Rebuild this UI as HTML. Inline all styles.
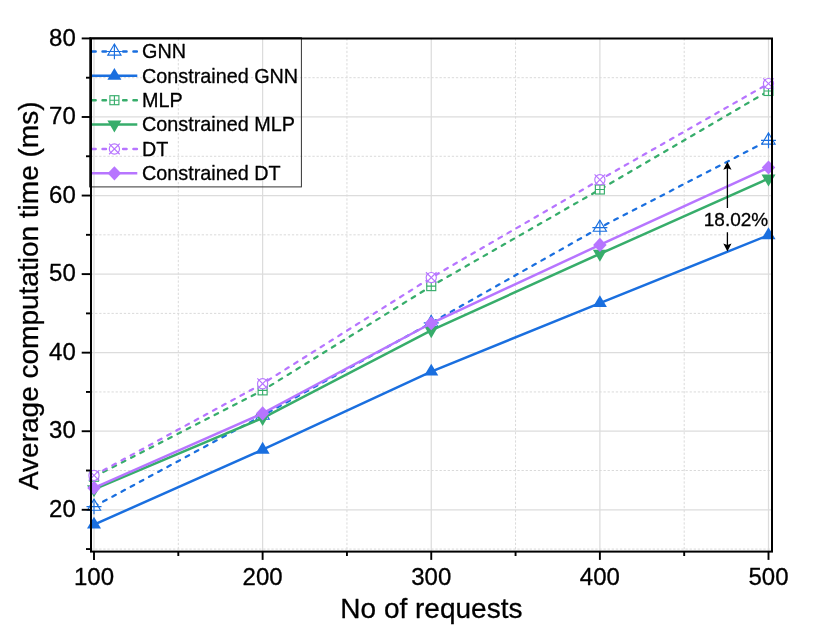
<!DOCTYPE html>
<html><head><meta charset="utf-8"><title>chart</title>
<style>html,body{margin:0;padding:0;background:#fff}svg{display:block;will-change:transform}text{font-family:"Liberation Sans",sans-serif;fill:#000;stroke:#000;stroke-width:0.3px;stroke-linejoin:round}</style></head><body>
<svg width="830" height="636" viewBox="0 0 830 636">
<rect width="830" height="636" fill="#fff"/>
<g stroke="#dcdcdc" stroke-width="1.25" fill="none">
<path d="M94.00 38.5V551.6"/>
<path d="M262.62 38.5V551.6"/>
<path d="M431.25 38.5V551.6"/>
<path d="M599.88 38.5V551.6"/>
<path d="M768.50 38.5V551.6"/>
<path d="M91.0 509.79H772.0"/>
<path d="M91.0 431.23H772.0"/>
<path d="M91.0 352.67H772.0"/>
<path d="M91.0 274.11H772.0"/>
<path d="M91.0 195.55H772.0"/>
<path d="M91.0 116.99H772.0"/>
</g>
<g stroke="#dadada" stroke-width="1" stroke-dasharray="2.3 1.8" fill="none">
<path d="M178.31 38.5V551.6"/>
<path d="M346.94 38.5V551.6"/>
<path d="M515.56 38.5V551.6"/>
<path d="M684.19 38.5V551.6"/>
<path d="M91.0 549.07H772.0"/>
<path d="M91.0 470.51H772.0"/>
<path d="M91.0 391.95H772.0"/>
<path d="M91.0 313.39H772.0"/>
<path d="M91.0 234.83H772.0"/>
<path d="M91.0 156.27H772.0"/>
<path d="M91.0 77.71H772.0"/>
</g>
<polyline points="94.00,506.56 262.62,415.50 431.25,322.87 599.88,227.57 768.50,140.36" fill="none" stroke="#1A6FDF" stroke-width="2.25" stroke-dasharray="3.9 6.52" stroke-linecap="round"/>
<path d="M94.00 499.16L100.60 510.26L87.40 510.26Z" fill="#fff" stroke="#1A6FDF" stroke-width="1.15"/><path d="M86.50 506.56H101.50M94.00 499.06V514.36" fill="none" stroke="#1A6FDF" stroke-width="1.15"/>
<path d="M262.62 408.10L269.23 419.20L256.02 419.20Z" fill="#fff" stroke="#1A6FDF" stroke-width="1.15"/><path d="M255.12 415.50H270.12M262.62 408.00V423.30" fill="none" stroke="#1A6FDF" stroke-width="1.15"/>
<path d="M431.25 315.47L437.85 326.57L424.65 326.57Z" fill="#fff" stroke="#1A6FDF" stroke-width="1.15"/><path d="M423.75 322.87H438.75M431.25 315.37V330.67" fill="none" stroke="#1A6FDF" stroke-width="1.15"/>
<path d="M599.88 220.17L606.48 231.27L593.27 231.27Z" fill="#fff" stroke="#1A6FDF" stroke-width="1.15"/><path d="M592.38 227.57H607.38M599.88 220.07V235.37" fill="none" stroke="#1A6FDF" stroke-width="1.15"/>
<path d="M768.50 132.96L775.10 144.06L761.90 144.06Z" fill="#fff" stroke="#1A6FDF" stroke-width="1.15"/><path d="M761.00 140.36H776.00M768.50 132.86V148.16" fill="none" stroke="#1A6FDF" stroke-width="1.15"/>
<polyline points="94.00,524.62 262.62,449.73 431.25,371.54 599.88,303.09 768.50,235.19" fill="none" stroke="#1A6FDF" stroke-width="2.5"/>
<path d="M94.00 516.72L101.00 528.62L87.00 528.62Z" fill="#1A6FDF"/>
<path d="M262.62 441.83L269.62 453.73L255.62 453.73Z" fill="#1A6FDF"/>
<path d="M431.25 363.64L438.25 375.54L424.25 375.54Z" fill="#1A6FDF"/>
<path d="M599.88 295.19L606.88 307.09L592.88 307.09Z" fill="#1A6FDF"/>
<path d="M768.50 227.29L775.50 239.19L761.50 239.19Z" fill="#1A6FDF"/>
<polyline points="94.00,476.73 262.62,390.38 431.25,286.13 599.88,189.50 768.50,90.98" fill="none" stroke="#37AD6B" stroke-width="2.25" stroke-dasharray="3.9 6.52" stroke-linecap="round"/>
<rect x="89.50" y="472.23" width="9" height="9" fill="#fff" stroke="#37AD6B" stroke-width="1.15"/><path d="M89.50 476.73H98.50M94.00 472.23V481.23" fill="none" stroke="#37AD6B" stroke-width="1.15"/>
<rect x="258.12" y="385.88" width="9" height="9" fill="#fff" stroke="#37AD6B" stroke-width="1.15"/><path d="M258.12 390.38H267.12M262.62 385.88V394.88" fill="none" stroke="#37AD6B" stroke-width="1.15"/>
<rect x="426.75" y="281.63" width="9" height="9" fill="#fff" stroke="#37AD6B" stroke-width="1.15"/><path d="M426.75 286.13H435.75M431.25 281.63V290.63" fill="none" stroke="#37AD6B" stroke-width="1.15"/>
<rect x="595.38" y="185.00" width="9" height="9" fill="#fff" stroke="#37AD6B" stroke-width="1.15"/><path d="M595.38 189.50H604.38M599.88 185.00V194.00" fill="none" stroke="#37AD6B" stroke-width="1.15"/>
<rect x="764.00" y="86.48" width="9" height="9" fill="#fff" stroke="#37AD6B" stroke-width="1.15"/><path d="M764.00 90.98H773.00M768.50 86.48V95.48" fill="none" stroke="#37AD6B" stroke-width="1.15"/>
<polyline points="94.00,489.29 262.62,418.09 431.25,330.33 599.88,253.79 768.50,178.59" fill="none" stroke="#37AD6B" stroke-width="2.5"/>
<path d="M94.00 497.19L101.00 485.29L87.00 485.29Z" fill="#37AD6B"/>
<path d="M262.62 425.99L269.62 414.09L255.62 414.09Z" fill="#37AD6B"/>
<path d="M431.25 338.23L438.25 326.33L424.25 326.33Z" fill="#37AD6B"/>
<path d="M599.88 261.69L606.88 249.79L592.88 249.79Z" fill="#37AD6B"/>
<path d="M768.50 186.49L775.50 174.59L761.50 174.59Z" fill="#37AD6B"/>
<polyline points="94.00,475.40 262.62,383.71 431.25,277.58 599.88,179.76 768.50,83.60" fill="none" stroke="#B775FF" stroke-width="2.25" stroke-dasharray="3.9 6.52" stroke-linecap="round"/>
<circle cx="94.00" cy="475.40" r="5.1" fill="#fff" stroke="#B775FF" stroke-width="1.15"/><path d="M88.70 470.10L99.30 480.70M99.30 470.10L88.70 480.70" fill="none" stroke="#B775FF" stroke-width="1.15"/>
<circle cx="262.62" cy="383.71" r="5.1" fill="#fff" stroke="#B775FF" stroke-width="1.15"/><path d="M257.32 378.41L267.93 389.01M267.93 378.41L257.32 389.01" fill="none" stroke="#B775FF" stroke-width="1.15"/>
<circle cx="431.25" cy="277.58" r="5.1" fill="#fff" stroke="#B775FF" stroke-width="1.15"/><path d="M425.95 272.28L436.55 282.88M436.55 272.28L425.95 282.88" fill="none" stroke="#B775FF" stroke-width="1.15"/>
<circle cx="599.88" cy="179.76" r="5.1" fill="#fff" stroke="#B775FF" stroke-width="1.15"/><path d="M594.58 174.46L605.17 185.06M605.17 174.46L594.58 185.06" fill="none" stroke="#B775FF" stroke-width="1.15"/>
<circle cx="768.50" cy="83.60" r="5.1" fill="#fff" stroke="#B775FF" stroke-width="1.15"/><path d="M763.20 78.30L773.80 88.90M773.80 78.30L763.20 88.90" fill="none" stroke="#B775FF" stroke-width="1.15"/>
<polyline points="94.00,487.96 262.62,413.38 431.25,323.26 599.88,244.92 768.50,167.52" fill="none" stroke="#B775FF" stroke-width="2.5"/>
<path d="M94.00 480.86L100.75 487.96L94.00 495.06L87.25 487.96Z" fill="#B775FF"/>
<path d="M262.62 406.28L269.38 413.38L262.62 420.48L255.88 413.38Z" fill="#B775FF"/>
<path d="M431.25 316.16L438.00 323.26L431.25 330.36L424.50 323.26Z" fill="#B775FF"/>
<path d="M599.88 237.82L606.62 244.92L599.88 252.02L593.12 244.92Z" fill="#B775FF"/>
<path d="M768.50 160.42L775.25 167.52L768.50 174.62L761.75 167.52Z" fill="#B775FF"/>
<rect x="89.6" y="37.7" width="211.8" height="149.2" fill="none" stroke="#333" stroke-width="1"/>
<path d="M92.25 51.45H137.3" stroke="#1A6FDF" stroke-width="2.5" fill="none" stroke-dasharray="3.4 6.9" stroke-linecap="round"/>
<path d="M114.40 44.05L121.00 55.15L107.80 55.15Z" fill="#fff" stroke="#1A6FDF" stroke-width="1.15"/><path d="M106.90 51.45H121.90M114.40 43.95V59.25" fill="none" stroke="#1A6FDF" stroke-width="1.15"/>
<text x="142.0" y="58.35" font-size="19.8">GNN</text>
<path d="M91.0 75.83H137.3" stroke="#1A6FDF" stroke-width="2.5" fill="none"/>
<path d="M114.40 67.93L121.40 79.83L107.40 79.83Z" fill="#1A6FDF"/>
<text x="142.0" y="82.73" font-size="19.8">Constrained GNN</text>
<path d="M92.25 100.21H137.3" stroke="#37AD6B" stroke-width="2.5" fill="none" stroke-dasharray="3.4 6.9" stroke-linecap="round"/>
<rect x="109.90" y="95.71" width="9" height="9" fill="#fff" stroke="#37AD6B" stroke-width="1.15"/><path d="M109.90 100.21H118.90M114.40 95.71V104.71" fill="none" stroke="#37AD6B" stroke-width="1.15"/>
<text x="142.0" y="107.11" font-size="19.8">MLP</text>
<path d="M91.0 124.59H137.3" stroke="#37AD6B" stroke-width="2.5" fill="none"/>
<path d="M114.40 132.49L121.40 120.59L107.40 120.59Z" fill="#37AD6B"/>
<text x="142.0" y="131.49" font-size="19.8">Constrained MLP</text>
<path d="M92.25 148.97H137.3" stroke="#B775FF" stroke-width="2.5" fill="none" stroke-dasharray="3.4 6.9" stroke-linecap="round"/>
<circle cx="114.40" cy="148.97" r="5.1" fill="#fff" stroke="#B775FF" stroke-width="1.15"/><path d="M109.10 143.67L119.70 154.27M119.70 143.67L109.10 154.27" fill="none" stroke="#B775FF" stroke-width="1.15"/>
<text x="142.0" y="155.87" font-size="19.8">DT</text>
<path d="M91.0 173.35H137.3" stroke="#B775FF" stroke-width="2.5" fill="none"/>
<path d="M114.40 166.25L121.15 173.35L114.40 180.45L107.65 173.35Z" fill="#B775FF"/>
<text x="142.0" y="180.25" font-size="19.8">Constrained DT</text>
<path d="M727.4 164V208M727.4 232.2V249" stroke="#000" stroke-width="1.3" fill="none"/>
<path d="M727.4 161.8L731.5 169.7L727.4 168.3L723.3 169.7Z" fill="#000"/>
<path d="M727.4 251.4L731.5 243.5L727.4 244.9L723.3 243.5Z" fill="#000"/>
<text x="736" y="225.6" font-size="19" text-anchor="middle">18.02%</text>
<rect x="91.0" y="38.5" width="681.0" height="513.1" fill="none" stroke="#000" stroke-width="2"/>
<g stroke="#000" stroke-width="1.9" fill="none" stroke-linecap="butt">
<path d="M94.00 551.6V559.9"/>
<path d="M262.62 551.6V559.9"/>
<path d="M431.25 551.6V559.9"/>
<path d="M599.88 551.6V559.9"/>
<path d="M768.50 551.6V559.9"/>
<path d="M178.31 551.6V556.0"/>
<path d="M346.94 551.6V556.0"/>
<path d="M515.56 551.6V556.0"/>
<path d="M684.19 551.6V556.0"/>
<path d="M91.0 509.79H81.7"/>
<path d="M91.0 431.23H81.7"/>
<path d="M91.0 352.67H81.7"/>
<path d="M91.0 274.11H81.7"/>
<path d="M91.0 195.55H81.7"/>
<path d="M91.0 116.99H81.7"/>
<path d="M91.0 38.43H81.7"/>
<path d="M91.0 549.07H86.0"/>
<path d="M91.0 470.51H86.0"/>
<path d="M91.0 391.95H86.0"/>
<path d="M91.0 313.39H86.0"/>
<path d="M91.0 234.83H86.0"/>
<path d="M91.0 156.27H86.0"/>
<path d="M91.0 77.71H86.0"/>
</g>
<text x="94.00" y="585" font-size="24" text-anchor="middle">100</text>
<text x="262.62" y="585" font-size="24" text-anchor="middle">200</text>
<text x="431.25" y="585" font-size="24" text-anchor="middle">300</text>
<text x="599.88" y="585" font-size="24" text-anchor="middle">400</text>
<text x="768.50" y="585" font-size="24" text-anchor="middle">500</text>
<text x="75.8" y="516.99" font-size="24" text-anchor="end">20</text>
<text x="75.8" y="438.43" font-size="24" text-anchor="end">30</text>
<text x="75.8" y="359.87" font-size="24" text-anchor="end">40</text>
<text x="75.8" y="281.31" font-size="24" text-anchor="end">50</text>
<text x="75.8" y="202.75" font-size="24" text-anchor="end">60</text>
<text x="75.8" y="124.19" font-size="24" text-anchor="end">70</text>
<text x="75.8" y="45.63" font-size="24" text-anchor="end">80</text>
<text x="431.4" y="618" font-size="28" text-anchor="middle">No of requests</text>
<text transform="translate(38.4 295.8) rotate(-90)" font-size="28" text-anchor="middle">Average computation time (ms)</text>
</svg></body></html>
